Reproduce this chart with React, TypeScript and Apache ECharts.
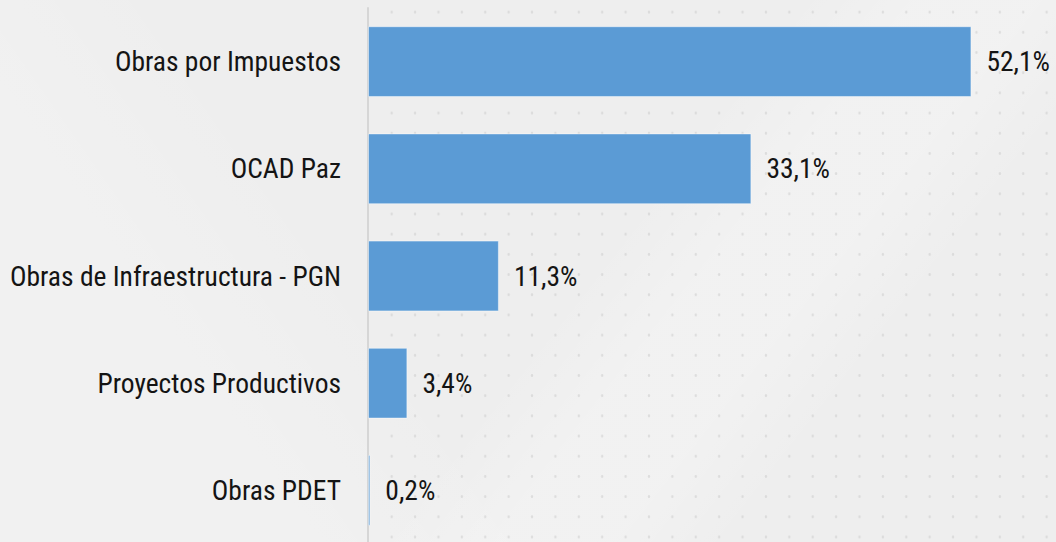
import React, { useEffect, useRef } from "react";
import * as echarts from "echarts";

const categories = [
  "Obras por Impuestos",
  "OCAD Paz",
  "Obras de Infraestructura - PGN",
  "Proyectos Productivos",
  "Obras PDET",
];
const shares = [52.1, 33.1, 11.3, 3.4, 0.2];
const xMax = 59.4;

const FONT = '"Roboto Condensed", "Liberation Sans Narrow", "Arial Narrow", sans-serif';

export default function App() {
  const ref = useRef<HTMLDivElement>(null);
  useEffect(() => {
    if (!ref.current) return;
    const chart = echarts.init(ref.current, undefined, { renderer: "svg" });
    chart.setOption({
      animation: false,
      backgroundColor: "transparent",
      grid: {
        left: 368,
        right: 0,
        top: 8,
        bottom: -2,
        containLabel: false,
        outerBoundsMode: "none",
      },
      xAxis: { type: "value", min: 0, max: xMax, show: false },
      yAxis: {
        type: "category",
        data: categories,
        inverse: true,
        axisLine: { show: true, lineStyle: { color: "#d6d6d6", width: 2 } },
        axisTick: { show: false },
        axisLabel: {
          margin: 27,
          color: "#141414",
          fontFamily: FONT,
          fontSize: 27.5,
        },
      },
      series: [
        {
          type: "bar",
          data: shares,
          barWidth: "66%",
          itemStyle: { color: "#5b9bd5", borderColor: "rgba(255,255,255,0.45)", borderWidth: 1 },
          label: {
            show: true,
            position: "right",
            distance: 15,
            color: "#141414",
            fontFamily: FONT,
            fontSize: 27.5,
            formatter: (p: any) => p.value.toFixed(1).replace(".", ",") + "%",
          },
        },
      ],
    });
    return () => chart.dispose();
  }, []);

  const bg: React.CSSProperties = {
    position: "fixed",
    left: 0,
    top: 0,
    width: 1056,
    height: 542,
    backgroundColor: "#eeeeee",
    backgroundImage:
      "linear-gradient(128deg, rgba(255,255,255,0) 54%, rgba(255,255,255,0.22) 62%, rgba(255,255,255,0.22) 70%, rgba(255,255,255,0) 78%)," +
      "linear-gradient(235deg, rgba(255,255,255,0) 62%, rgba(255,255,255,0.18) 78%, rgba(255,255,255,0.18) 100%)",
    backgroundSize: "100% 100%, 100% 100%",
  };
  const dots: React.CSSProperties = {
    position: "absolute",
    left: 372,
    top: 0,
    width: 684,
    height: 542,
    backgroundImage: "radial-gradient(circle, rgba(195,195,195,0.45) 1px, rgba(195,195,195,0) 1.6px)",
    backgroundSize: "23.4px 20.2px",
    backgroundPosition: "8px 2px",
  };

  return (
    <div style={bg}>
      <div style={dots} />
      <div ref={ref} style={{ position: "absolute", left: 0, top: 0, width: 1056, height: 542 }} />
    </div>
  );
}
